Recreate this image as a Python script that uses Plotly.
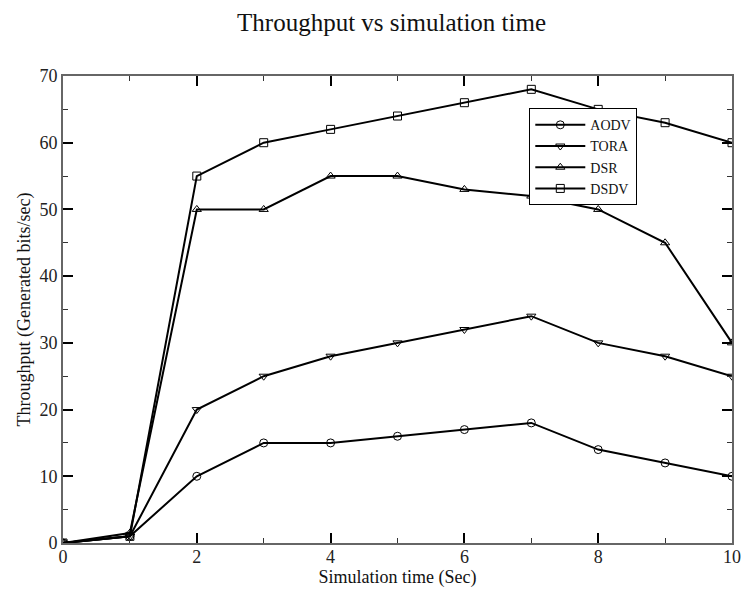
import plotly.graph_objects as go

time = [0, 1, 2, 3, 4, 5, 6, 7, 8, 9, 10]
aodv = [0, 1, 10, 15, 15, 16, 17, 18, 14, 12, 10]
tora = [0, 1, 20, 25, 28, 30, 32, 34, 30, 28, 25]
dsr = [0, 1.5, 50, 50, 55, 55, 53, 52, 50, 45, 30]
dsdv = [0, 1, 55, 60, 62, 64, 66, 68, 65, 63, 60]

series = [
    ("AODV", aodv, "circle-open"),
    ("TORA", tora, "triangle-down-open"),
    ("DSR", dsr, "triangle-up-open"),
    ("DSDV", dsdv, "square-open"),
]

fig = go.Figure()
for name, vals, sym in series:
    fig.add_trace(go.Scatter(
        x=time, y=vals, name=name, mode="lines+markers",
        line=dict(color="black", width=2),
        marker=dict(symbol=sym, size=8, color="black", line=dict(width=1, color="black")),
    ))

font = "Liberation Serif, Times New Roman, serif"
axis_common = dict(
    showline=True, linecolor="#666", linewidth=2, mirror="ticks",
    ticks="inside", ticklen=10, tickcolor="black", tickwidth=1.5,
    showgrid=False, zeroline=False,
    tickfont=dict(family=font, size=18, color="#222"),
    minor=dict(ticks="inside", ticklen=5, tickcolor="#333", tickwidth=1),
)

fig.update_layout(
    width=743, height=589,
    paper_bgcolor="white", plot_bgcolor="white",
    margin=dict(l=63, r=11, t=76, b=46),
    title=dict(text="Throughput vs simulation time", xref="container", x=0.527,
               xanchor="center", y=0.9626, yanchor="middle",
               font=dict(family=font, size=25, color="#111")),
    xaxis=dict(range=[0, 10], dtick=2, minor_dtick=1, automargin=False,
               ticklabelstandoff=-4,
               title=dict(text="Simulation time (Sec)", standoff=0,
                          font=dict(family=font, size=18, color="#111")),
               **axis_common),
    yaxis=dict(range=[0, 70], dtick=10, minor_dtick=5, automargin=False,
               title=dict(text="Throughput (Generated bits/sec)", standoff=4,
                          font=dict(family=font, size=18, color="#111")),
               **axis_common),
    legend=dict(x=0.697, y=0.931, xanchor="left", yanchor="top",
                bordercolor="black", borderwidth=1, bgcolor="white",
                font=dict(family=font, size=14, color="#111"),
                tracegroupgap=0, itemwidth=50),
    showlegend=True,
)

fig.write_html("out.html", config={"displayModeBar": False},
               post_script="document.body.style.margin='0';")
